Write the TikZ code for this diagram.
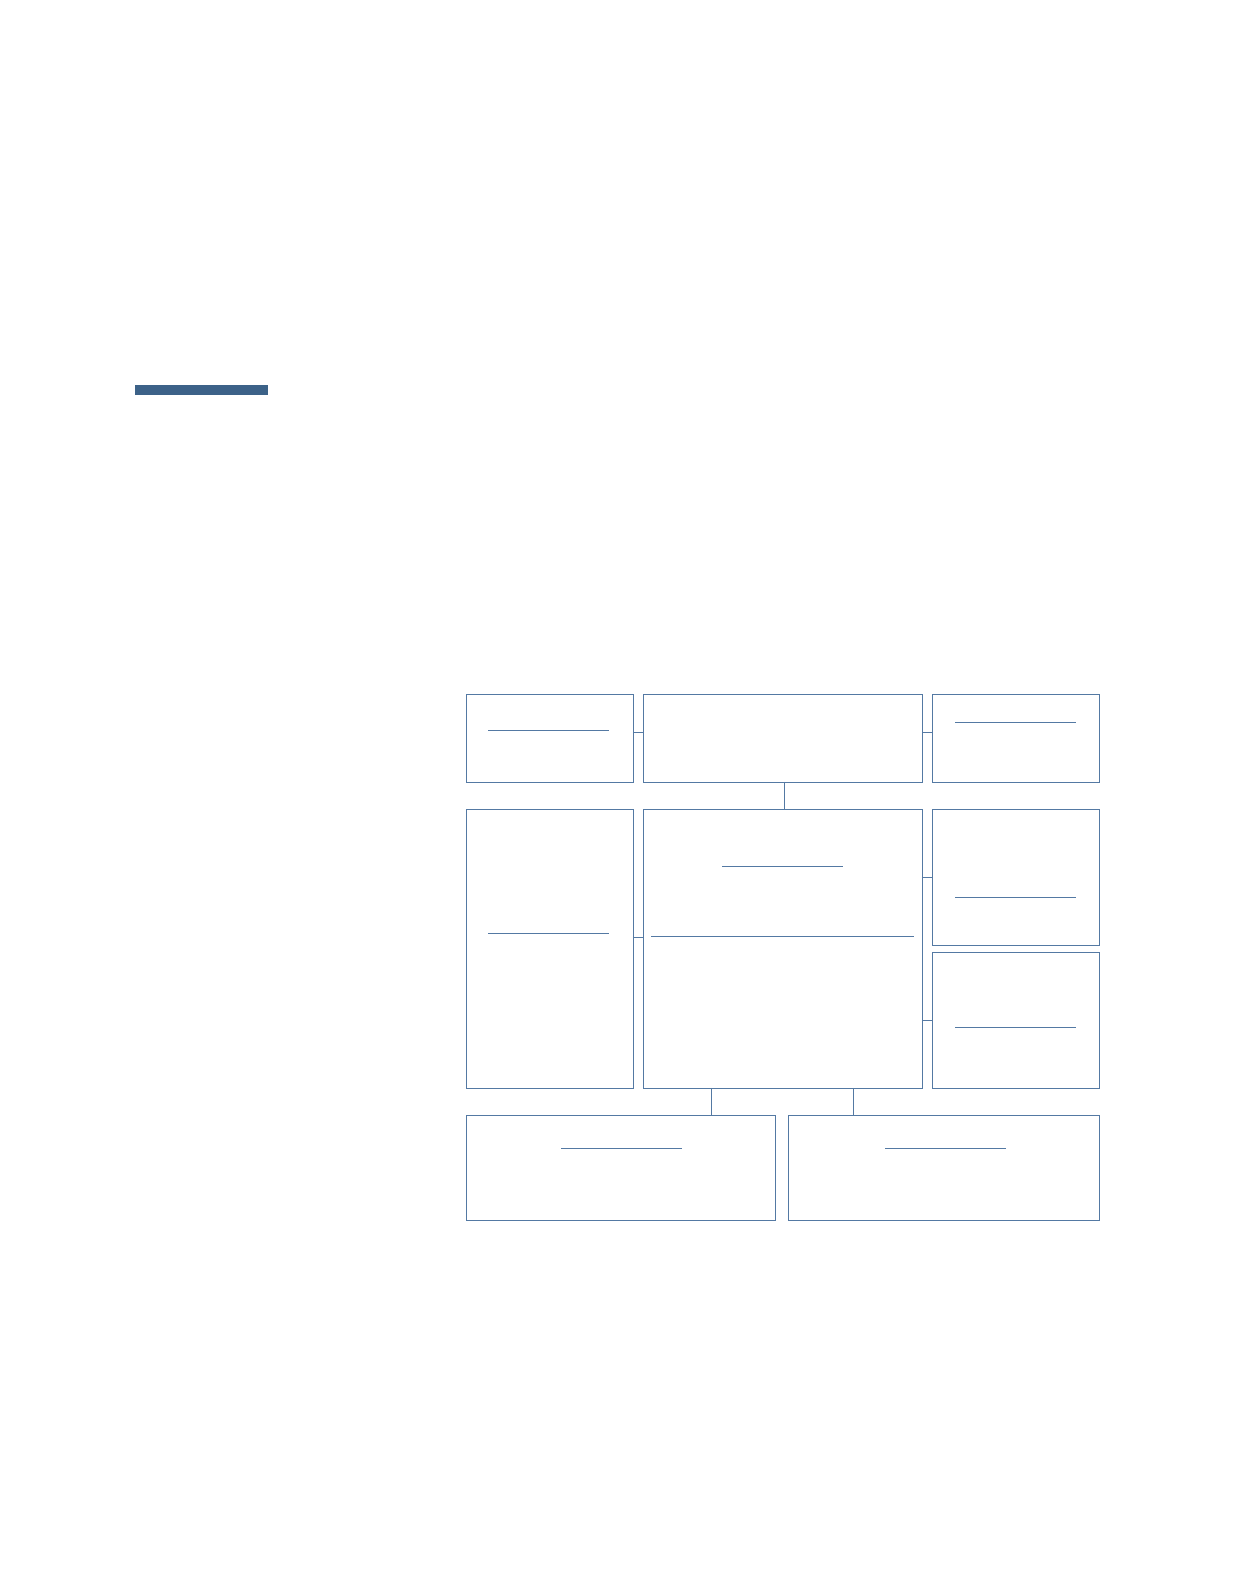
\documentclass[tikz,border=0pt]{standalone}
\usepackage{xcolor}
\usepackage{tikz}
\usetikzlibrary{positioning,calc}
\definecolor{chartblue}{HTML}{5479A3}
\definecolor{barblue}{HTML}{3C6288}

\begin{document}
\begin{tikzpicture}[x=0.02cm,y=-0.02cm,line width=0.55pt]
  \tikzset{box/.style={draw=chartblue, inner sep=0pt, outer sep=0pt}}
  \tikzset{rule it/.style={draw=chartblue}}
    \useasboundingbox (0,0) rectangle (1253,1594);

    \fill[barblue] (135,385) rectangle (268,395);

    % top row
    \node[box, minimum width=3.34cm, minimum height=1.76cm] (lead) at (549.5,738) {};
    \node[box, minimum width=5.58cm, minimum height=1.76cm] (head) at (782.5,738) {};
    \node[box, minimum width=3.34cm, minimum height=1.76cm] (aside) at (1015.5,738) {};

    % middle row
    \node[box, minimum width=3.34cm, minimum height=5.58cm] (left) at (549.5,948.5) {};
    \node[box, minimum width=5.58cm, minimum height=5.58cm] (core) at (782.5,948.5) {};
    \node[box, minimum width=3.34cm, minimum height=2.72cm] (upper) at (1015.5,877) {};
    \node[box, minimum width=3.34cm, minimum height=2.72cm] (lower) at (1015.5,1020) {};

    % bottom row
    \node[box, minimum width=6.20cm, minimum height=2.10cm] (foot) at (621,1167.5) {};
    \node[box, minimum width=6.22cm, minimum height=2.10cm] (base) at (943.5,1167.5) {};

    % rules inside the boxes
    \draw[rule it] (488,730) -- (609,730);
    \draw[rule it] (955,722) -- (1076,722);
    \draw[rule it] (488,933) -- (609,933);
    \draw[rule it] (722,866) -- (843,866);
    \draw[rule it] (651,936) -- (914,936);
    \draw[rule it] (955,897) -- (1076,897);
    \draw[rule it] (955,1027) -- (1076,1027);
    \draw[rule it] (561,1148) -- (682,1148);
    \draw[rule it] (885,1148) -- (1006,1148);

    % links
    \draw[chartblue] ([yshift=3.4pt]lead.east) -- ([yshift=3.4pt]head.west);
    \draw[chartblue] ([yshift=3.4pt]head.east) -- ([yshift=3.4pt]aside.west);
    \draw[chartblue] ([xshift=0.04cm]head.south) -- ([xshift=0.04cm]core.north);
    \draw[chartblue] ([yshift=6.2pt]left.east) -- ([yshift=6.2pt]core.west);
    \draw[chartblue] (core.east |- upper.west) -- (upper.west);
    \draw[chartblue] (core.east |- lower.west) -- (lower.west);
    \draw[chartblue] ([xshift=1.36cm]core.south west) -- ([xshift=1.36cm]core.south west |- foot.north);
    \draw[chartblue] ([xshift=-1.38cm]core.south east) -- ([xshift=-1.38cm]core.south east |- base.north);
\end{tikzpicture}
\end{document}
